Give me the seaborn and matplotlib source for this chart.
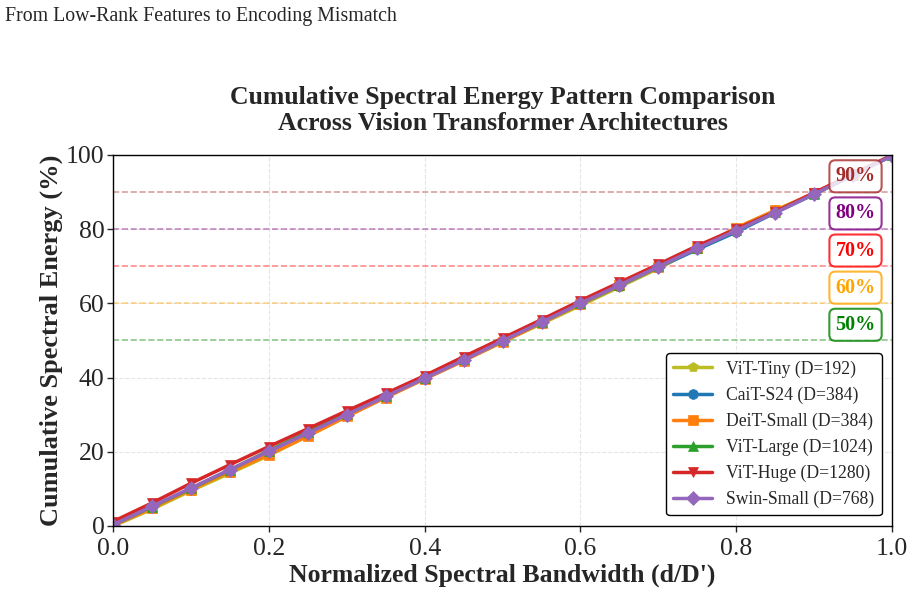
import matplotlib
matplotlib.use("Agg")
import matplotlib.pyplot as plt
import numpy as np
import seaborn as sns

# dados
bandwidth = [0.0, 0.05, 0.1, 0.15, 0.2, 0.25, 0.3, 0.35, 0.4, 0.45, 0.5,
             0.55, 0.6, 0.65, 0.7, 0.75, 0.8, 0.85, 0.9, 0.95, 1.0]

vit_tiny = [0.0, 4.5, 9.5, 14.2, 19.0, 24.3, 29.6, 34.8, 39.8, 44.7, 49.6,
            54.5, 59.4, 64.4, 69.4, 74.8, 80.3, 85.0, 89.6, 94.6, 99.8]
cait_s24 = [0.2, 5.0, 10.0, 15.0, 19.8, 24.8, 29.8, 34.8, 39.7, 44.6, 49.7,
            54.8, 59.8, 64.7, 69.7, 74.5, 79.2, 84.4, 89.4, 94.5, 99.8]
deit_small = [0.1, 4.8, 9.8, 14.6, 19.2, 24.2, 29.5, 34.6, 39.6, 44.5, 49.6,
              54.7, 59.8, 64.8, 69.8, 75.0, 80.3, 85.0, 89.7, 94.7, 99.9]
vit_large = [0.3, 5.2, 10.1, 15.1, 20.3, 25.3, 30.2, 35.1, 40.0, 45.0, 50.0,
             55.0, 60.0, 65.0, 70.0, 74.9, 79.8, 84.6, 89.5, 94.6, 99.9]
vit_huge = [1.2, 6.2, 11.5, 16.5, 21.4, 26.2, 31.0, 35.7, 40.5, 45.6, 50.6,
            55.6, 60.7, 65.6, 70.5, 75.5, 80.0, 84.6, 89.8, 94.8, 99.9]
swin_small = [0.3, 5.3, 10.2, 15.2, 20.1, 25.0, 30.0, 34.9, 39.8, 44.7, 49.9,
              54.9, 60.0, 64.9, 69.9, 74.8, 79.6, 84.4, 89.4, 94.6, 99.7]

series_names = ["ViT-Tiny (D=192)", "CaiT-S24 (D=384)", "DeiT-Small (D=384)",
                "ViT-Large (D=1024)", "ViT-Huge (D=1280)", "Swin-Small (D=768)"]
series_values = [vit_tiny, cait_s24, deit_small, vit_large, vit_huge, swin_small]
series_colors = ["#bcbd22", "#1f77b4", "#ff7f0e", "#2ca02c", "#d62728", "#9467bd"]
series_markers = ["p", "o", "s", "^", "v", "D"]

thresholds = [90, 80, 70, 60, 50]
threshold_labels = ["90%", "80%", "70%", "60%", "50%"]
threshold_colors = ["brown", "purple", "red", "orange", "green"]

sns.set_style("white")
plt.rcParams["font.family"] = ["Liberation Serif", "DejaVu Serif"]

fig = plt.figure(figsize=(9.15, 5.93), dpi=100)
ax = fig.add_axes([0.1235, 0.113, 0.8515, 0.626])

for nome, valores, cor, marcador in zip(series_names, series_values,
                                        series_colors, series_markers):
    sns.lineplot(x=bandwidth, y=valores, ax=ax, label=nome, color=cor,
                 marker=marcador, markersize=7, linewidth=2.5,
                 markeredgecolor=cor, markeredgewidth=0.5)

# linhas de referência
for t, lab, cor in zip(thresholds, threshold_labels, threshold_colors):
    ax.axhline(t, color=cor, linestyle="--", linewidth=1.2, alpha=0.45, zorder=1)
    ax.text(0.953, t + 4.2, lab, color=cor, fontsize=14.5, weight="bold",
            ha="center", va="center",
            bbox=dict(boxstyle="round,pad=0.3", facecolor="white",
                      edgecolor=cor, alpha=0.8, linewidth=1.5))

ax.set_xlim(0, 1)
ax.set_ylim(0, 100)
ax.set_xticks(np.arange(0, 1.01, 0.2))
ax.set_yticks(np.arange(0, 101, 20))
ax.tick_params(axis="both", labelsize=18.5, length=4, width=1, direction="out",
               bottom=True, left=True)
ax.tick_params(axis="x", pad=4.5)
ax.tick_params(axis="y", pad=2)
ax.grid(True, linestyle="--", color="#cccccc", alpha=0.5, linewidth=0.8)
for s in ax.spines.values():
    s.set_color("black")
    s.set_linewidth(1.0)

ax.set_xlabel("Normalized Spectral Bandwidth (d/D')", fontsize=18.5,
              weight="bold", labelpad=3)
ax.set_ylabel("Cumulative Spectral Energy (%)", fontsize=19, weight="bold",
              labelpad=2)
ax.set_title("Cumulative Spectral Energy Pattern Comparison\n"
             "Across Vision Transformer Architectures",
             fontsize=18.5, weight="bold", pad=18, linespacing=1.15)

leg = ax.legend(loc="lower right", fontsize=12.7, frameon=True, fancybox=True,
                edgecolor="black", framealpha=1.0, handlelength=2.2,
                borderaxespad=0.6)
leg.get_frame().set_linewidth(1.0)

fig.text(0.006, 0.988, "From Low-Rank Features to Encoding Mismatch",
         fontsize=14.3, ha="left", va="top")

fig.savefig("out.png", dpi=100)
